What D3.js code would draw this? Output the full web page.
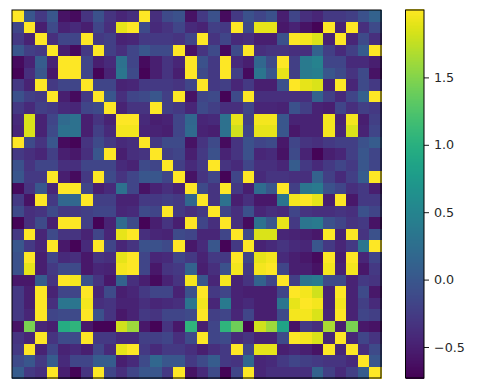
<!DOCTYPE html>
<html><head><meta charset="utf-8">
<style>html,body{margin:0;padding:0;background:#fff}svg{display:block}</style>
<script src="https://cdn.jsdelivr.net/npm/d3@7/dist/d3.min.js"></script></head>
<body><svg id="c" width="478" height="388"></svg>
<script>
const rows = [
[2,0,-.28,0,-.6,-.65,-.32,-.05,-.32,-.44,-.36,2,-.36,-.12,-.05,-.6,-.28,-.05,-.65,-.28,-.05,-.17,-.05,-.5,-.17,-.36,-.44,-.28,-.28,-.22,-.05,.12],
[-.17,2,-.5,-.12,-.47,-.4,-.5,-.17,-.36,1.9,2,-.12,-.4,-.32,-.17,-.4,-.47,-.22,-.28,2,-.12,1.9,1.9,-.55,-.47,-.6,-.7,2,-.47,2,-.36,-.12],
[-.28,-.47,2,-.36,-.17,-.17,2,-.28,-.22,-.47,-.44,-.28,-.28,-.28,-.32,-.17,2,-.32,-.17,-.4,-.36,-.5,-.5,-.05,2,1.95,1.85,-.47,2,-.44,-.12,-.36],
[0,-.22,-.28,2,-.5,-.65,-.28,2,-.22,-.36,-.17,0,-.12,-.12,2,-.6,-.32,-.12,-.65,-.12,2,-.36,-.32,-.32,-.36,-.36,.12,-.22,-.4,-.22,.05,2],
[-.65,-.47,.05,-.47,2,2,-.17,-.5,-.4,.28,-.17,-.65,-.5,-.32,-.44,2,-.05,-.28,2,-.4,-.5,.17,-.12,2,-.22,.38,.48,-.17,-.17,-.4,-.4,-.5],
[-.7,-.36,0,-.55,2,2,-.17,-.7,-.47,.33,-.12,-.7,-.5,-.32,-.5,2,-.12,-.28,2,-.22,-.65,.33,0,1.9,-.22,.38,.43,0,-.12,-.32,-.12,-.6],
[-.28,-.47,2,-.28,-.17,-.17,2,-.17,-.17,-.47,-.44,-.28,-.28,-.28,-.32,-.17,2,-.28,-.22,-.44,-.28,-.5,-.5,-.05,2,1.9,1.85,-.47,2,-.44,-.12,-.28],
[-.05,-.22,-.28,2,-.5,-.65,-.28,2,0,-.36,-.17,-.12,0,-.22,2,-.6,-.17,-.12,-.7,-.12,2,-.36,-.36,-.36,-.36,-.36,.12,-.22,-.4,-.17,.1,2],
[-.28,-.4,-.22,-.28,-.4,-.44,-.17,-.12,2,-.47,-.32,-.32,2,-.22,-.28,-.44,-.12,-.22,-.36,-.36,-.17,-.44,-.44,-.47,-.05,-.22,-.47,-.5,-.17,-.36,-.22,-.28],
[-.4,1.85,-.47,-.17,.2,.28,-.5,-.32,-.47,2,2,-.4,-.5,-.47,-.17,.17,-.44,-.4,.28,1.9,-.22,1.95,1.95,0,-.47,-.47,-.47,1.95,-.47,1.95,-.5,-.22],
[-.44,1.85,-.47,-.12,.28,.28,-.5,-.22,-.4,1.95,1.95,-.44,-.47,-.5,-.17,.2,-.47,-.5,.28,1.8,-.17,1.9,1.9,0,-.55,-.47,-.47,1.95,-.44,1.85,-.47,-.17],
[2,-.12,-.32,0,-.65,-.7,-.32,-.12,-.28,-.4,-.36,2,-.28,-.12,-.12,-.6,-.32,-.12,-.65,-.32,-.05,-.17,-.12,-.55,-.17,-.32,-.36,-.28,-.22,-.22,-.05,.05],
[-.28,-.36,-.44,-.22,-.5,-.55,-.36,0,2,-.5,-.36,-.32,2,-.22,-.17,-.5,-.28,-.05,-.47,-.32,-.05,-.44,-.4,-.6,-.12,-.47,-.7,-.5,-.44,-.22,0,-.17],
[-.05,-.32,-.17,-.17,-.36,-.36,-.17,-.17,-.17,-.4,-.47,-.12,-.17,2,-.22,-.4,-.28,2,-.32,-.4,-.17,-.36,-.36,-.44,.05,-.28,-.4,-.28,-.17,-.28,0,-.17],
[0,-.28,-.28,2,-.5,-.65,-.28,2,-.12,-.32,-.17,0,0,-.17,2,-.6,-.32,-.17,-.7,-.17,2,-.4,-.32,-.32,-.36,-.36,.12,-.22,-.4,-.22,.05,2],
[-.65,-.32,0,-.44,2,2,-.17,-.5,-.4,.28,-.17,-.6,-.47,-.36,-.47,2,-.12,-.32,2,-.28,-.5,.22,0,2,-.22,.33,.38,-.05,-.17,-.36,-.28,-.5],
[-.28,-.6,2,-.28,.17,.17,2,-.22,-.22,-.47,-.47,-.28,-.28,-.22,-.28,.17,2,-.32,.28,-.5,-.36,-.55,-.55,.33,1.95,2,1.9,-.5,2,-.55,-.28,-.28],
[-.12,-.36,-.32,-.12,-.28,-.28,-.22,-.17,-.17,-.44,-.4,-.12,-.17,2,-.28,-.36,-.28,2,-.17,-.36,-.05,-.44,-.36,-.4,-.17,-.32,-.36,-.36,-.32,-.36,-.05,-.17],
[-.7,-.36,-.12,-.5,2,2,-.22,-.7,-.47,.2,-.12,-.7,-.5,-.32,-.5,2,-.17,-.36,2,-.36,-.65,.28,0,1.9,-.28,.33,.38,-.05,-.17,-.32,-.28,-.6],
[-.28,2,-.44,-.12,-.32,-.32,-.47,-.17,-.44,1.9,2,-.36,-.44,-.47,-.12,-.17,-.44,-.44,-.17,2,-.12,1.85,1.85,-.44,-.47,-.5,-.55,2,-.47,2,-.32,-.05],
[0,-.28,-.44,2,-.55,-.7,-.4,2,-.17,-.44,-.32,-.05,-.05,-.12,2,-.55,-.4,0,-.7,-.28,2,-.47,-.4,-.32,-.4,-.44,0,-.28,-.44,-.28,.33,2],
[-.05,2,-.5,-.17,-.4,-.36,-.55,-.32,-.36,1.9,2,-.17,-.44,-.4,-.17,-.28,-.47,-.28,-.28,2,-.17,1.9,1.95,-.4,-.5,-.55,-.65,2,-.5,2,-.44,-.17],
[-.05,1.9,-.5,-.28,-.12,-.12,-.55,-.44,-.47,1.95,2,-.17,-.55,-.32,-.28,.12,-.5,-.36,-.05,1.95,-.28,1.95,2,-.17,-.5,-.5,-.6,1.95,-.47,1.95,-.55,-.28],
[-.55,-.55,.05,-.32,2,1.95,-.05,-.32,-.55,.12,-.36,-.5,-.65,-.47,-.32,1.95,0,-.44,1.95,-.47,-.32,.12,-.17,2,-.22,.33,.38,-.12,-.12,-.47,-.28,-.32],
[-.28,-.5,2,-.47,-.17,-.17,2,-.44,-.12,-.5,-.44,-.28,-.17,-.17,-.47,-.05,2,-.28,-.17,-.47,-.5,-.5,-.5,-.17,2,1.95,1.8,-.47,2,-.47,-.12,-.55],
[-.28,-.5,2,-.36,.33,.33,1.95,-.36,-.32,-.47,-.47,-.36,-.44,-.4,-.36,.33,1.95,-.44,.38,-.47,-.4,-.5,-.5,.33,1.9,2,1.95,-.47,1.95,-.47,-.22,-.4],
[-.28,-.44,2,-.17,-.12,-.12,2,-.05,-.32,-.55,-.47,-.28,-.32,-.17,-.17,-.12,2,-.22,-.17,-.44,-.17,-.5,-.5,-.12,1.95,1.95,1.85,-.44,2,-.47,-.17,-.22],
[-.6,1.45,-.44,-.5,.95,1.05,-.55,-.7,-.7,1.8,1.6,-.55,-.7,-.32,-.55,1.05,-.5,-.17,1.05,1.4,-.7,1.8,1.6,.85,-.6,-.28,-.36,1.65,-.5,1.45,-.55,-.6],
[-.32,-.44,2,-.32,-.12,-.12,2,-.28,-.28,-.4,-.4,-.22,-.22,-.17,-.36,-.12,2,-.17,-.12,-.4,-.32,-.47,-.47,-.12,2,1.95,1.85,-.44,2,-.44,-.17,-.32],
[-.28,2,-.47,-.17,-.47,-.4,-.5,-.17,-.4,1.9,2,-.28,-.4,-.28,-.28,-.36,-.5,-.36,-.28,2,-.17,1.9,1.9,-.5,-.44,-.5,-.6,2,-.44,2,-.36,-.12],
[-.12,0,-.28,.05,-.4,-.17,-.17,.05,.05,-.5,-.4,-.12,.17,0,0,-.28,-.12,.05,-.28,-.32,.17,-.44,-.4,-.28,-.17,-.22,-.28,-.32,-.32,-.4,2,0],
[.05,-.28,-.36,2,-.5,-.7,-.32,2,-.17,-.36,-.17,0,0,-.28,2,-.6,-.4,-.12,-.7,-.17,2,-.44,-.36,-.36,-.36,-.36,.12,-.22,-.4,-.22,.05,2]
];
const barTicks = [-0.5, 0, 0.5, 1, 1.5];
const valueDomain = [-0.73, 2.0];

const svg = d3.select("#c");
const plot = {x0:12, x1:381, y0:10, y1:378};
const bar = {x0:405.5, x1:424, y0:10, y1:378};
const idx = d3.range(rows.length);
const x = d3.scaleBand().domain(idx).range([plot.x0, plot.x1]);
const y = d3.scaleBand().domain(idx).range([plot.y0, plot.y1]);
const color = d3.scaleSequential(d3.interpolateViridis).domain(valueDomain);

svg.append("g").attr("shape-rendering","crispEdges").selectAll("g").data(rows).join("g")
  .selectAll("rect").data((r,i)=>r.map((v,j)=>({v,i,j}))).join("rect")
  .attr("x",d=>x(d.j)).attr("y",d=>y(d.i))
  .attr("width",x.bandwidth()+0.5).attr("height",y.bandwidth()+0.5)
  .attr("fill",d=>color(d.v));
svg.append("rect").attr("x",plot.x0).attr("y",plot.y0)
  .attr("width",plot.x1-plot.x0).attr("height",plot.y1-plot.y0)
  .attr("fill","none").attr("stroke","#000").attr("stroke-width",1);

const scaleBar = d3.scaleLinear().domain(valueDomain).range([bar.y1, bar.y0]);
const steps = d3.range(0,256).map(i=>valueDomain[0]+(valueDomain[1]-valueDomain[0])*i/255);
const sh = (bar.y1-bar.y0)/255;
svg.append("g").attr("shape-rendering","crispEdges").selectAll("rect").data(steps).join("rect")
  .attr("x",bar.x0).attr("width",bar.x1-bar.x0)
  .attr("y",d=>scaleBar(d)-sh).attr("height",sh+0.5)
  .attr("fill",d=>color(d));
svg.append("rect").attr("x",bar.x0).attr("y",bar.y0)
  .attr("width",bar.x1-bar.x0).attr("height",bar.y1-bar.y0)
  .attr("fill","none").attr("stroke","#000").attr("stroke-width",1);
const ax = d3.axisRight(scaleBar).tickValues(barTicks).tickSize(5).tickPadding(5).tickFormat(d3.format(".1f"));
const g = svg.append("g").attr("transform",`translate(${bar.x1},0)`).call(ax);
g.select(".domain").remove();
g.selectAll("text").attr("font-family","'DejaVu Sans'").attr("font-size",12.7).attr("fill","#262626");
g.selectAll("line").attr("stroke","#000").attr("stroke-width",0.9);
</script></body></html>
